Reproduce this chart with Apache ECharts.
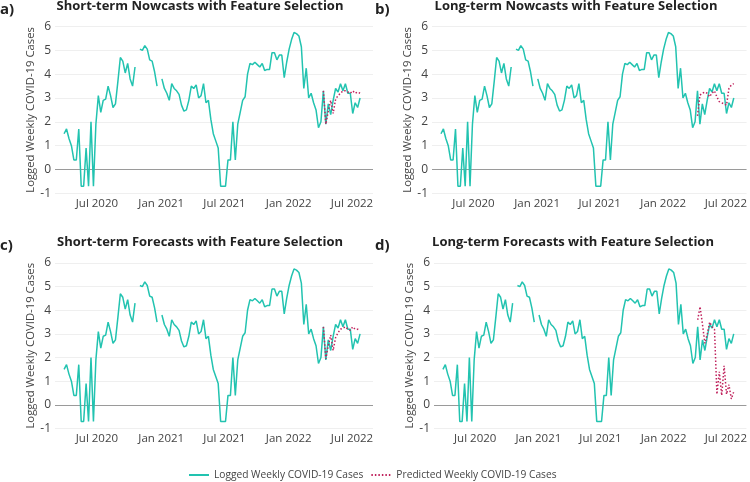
<!DOCTYPE html>
<html>
<head>
<meta charset="utf-8">
<script src="https://cdn.jsdelivr.net/npm/echarts@6/dist/echarts.min.js"></script>
<style>
html,body{margin:0;padding:0;background:#fff;}
#chart{width:750px;height:482px;}
</style>
</head>
<body>
<div id="chart"></div>
<script>
// ---- Data ----
const firstWeek = '2020-03-29';
const loggedCases = [
  1.5, 1.7, 1.3, 1.0, 0.4, 0.4, 1.7, -0.7, -0.7, 0.9,
  -0.7, 2.0, -0.7, 1.9, 3.1, 2.4, 2.9, 2.95, 3.5, 3.1,
  2.6, 2.75, 3.7, 4.7, 4.55, 4.05, 4.45, 3.8, 3.5, 4.3,
  null, 5.05, 5.0, 5.2, 5.05, 4.6, 4.55, 4.1, 3.5, null,
  3.8, 3.4, 3.2, 2.9, 3.6, 3.4, 3.3, 3.15, 2.7, 2.45,
  2.5, 2.9, 3.5, 3.4, 3.55, 3.0, 3.1, 3.6, 2.8, 2.9,
  2.1, 1.5, 1.2, 0.9, -0.7, -0.7, -0.7, 0.4, 0.4, 2.0,
  0.4, 1.9, 2.4, 2.9, 3.05, 4.0, 4.45, 4.4, 4.5, 4.4,
  4.3, 4.45, 4.15, 4.2, 4.2, 4.9, 4.9, 4.6, 4.8, 4.8,
  3.85, 4.5, 5.05, 5.45, 5.75, 5.7, 5.6, 5.15, 3.4, 4.25,
  3.0, 3.2, 2.8, 2.5, 1.75, 2.0, 3.3, 1.9, 2.75, 2.3,
  2.9, 3.4, 3.25, 3.6, 3.3, 3.6, 3.2, 3.2, 2.35, 2.8,
  2.6, 3.0
];
const predStartIndex = 106;
const predShortNowcast = [3.3, 1.9, 2.45, 2.9, 2.35, 2.95, 3.1, 3.2, 3.3, 3.3, 3.25, 3.2, 3.3, 3.2, 3.25, 3.2];
const predLongNowcast  = [2.25, 3.12, 3.2, 3.25, 3.2, 3.05, 3.2, 3.3, 3.05, 2.85, 2.8, 2.75, 2.7, 3.4, 3.55, 3.6];
const predShortForecast = [3.3, 1.95, 2.5, 2.95, 2.3, 2.85, 3.05, 3.2, 3.25, 3.3, 3.2, 3.15, 3.3, 3.2, 3.2, 3.15];
const predLongForecast = [3.6, 4.15, 3.4, 2.6, 3.0, 3.5, 3.3, 3.2, 0.45, 1.4, 0.4, 1.65, 0.45, 0.85, 0.25, 0.55];
const tickDates = ['2020-07-01', '2021-01-01', '2021-07-01', '2022-01-01', '2022-07-01'];
const tickLabels = ['Jul 2020', 'Jan 2021', 'Jul 2021', 'Jan 2022', 'Jul 2022'];
const panelTitles = [
  'Short-term Nowcasts with Feature Selection',
  'Long-term Nowcasts with Feature Selection',
  'Short-term Forecasts with Feature Selection',
  'Long-term Forecasts with Feature Selection'
];
const panelLetters = ['a)', 'b)', 'c)', 'd)'];
const yAxisName = 'Logged Weekly COVID-19 Cases';
const seriesNames = ['Logged Weekly COVID-19 Cases', 'Predicted Weekly COVID-19 Cases'];

// ---- Build ----
const DAY = 86400000;
const t0 = Date.parse(firstWeek + 'T00:00:00Z');
const weekTs = loggedCases.map((_, i) => t0 + i * 7 * DAY);
const actualData = loggedCases.map((v, i) => [weekTs[i], v]);
const predSets = [predShortNowcast, predLongNowcast, predShortForecast, predLongForecast];
const tickTs = tickDates.map(d => Date.parse(d + 'T00:00:00Z'));
function labelFor(v) {
  for (let i = 0; i < tickTs.length; i++) {
    if (Math.abs(tickTs[i] - v) < DAY) return tickLabels[i];
  }
  return '';
}

const FONT = 'Open Sans';
const TEAL = '#22c3b0';
const PRED = '#c0235d';
const xMin = Date.parse('2020-03-03T00:00:00Z');
const xMax = Date.parse('2022-08-30T00:00:00Z');

const grids = [
  {left: 55, top: 26.5, width: 318, height: 166.8},
  {left: 432, top: 26.5, width: 316, height: 166.8},
  {left: 55, top: 263, width: 318, height: 165.5},
  {left: 434, top: 263, width: 314, height: 165.5}
];
const titleCenters = [[200, 0], [576, 0], [200, 236], [573, 236]];
const letterPos = [[0, 2], [375, 2], [0, 238], [375, 238]];

const gridLineColors = ['#efefef', '#9a9a9a', '#efefef', '#efefef', '#efefef', '#efefef', '#efefef', '#efefef'];

const option = {
  backgroundColor: '#fff',
  animation: false,
  textStyle: {fontFamily: FONT},
  title: [],
  grid: grids.map(g => Object.assign({containLabel: false}, g)),
  xAxis: [],
  yAxis: [],
  series: [],
  legend: {
    data: seriesNames,
    left: 183, top: 465,
    itemWidth: 20, itemHeight: 10, itemGap: 7,
    itemStyle: {opacity: 0},
    textStyle: {fontFamily: FONT, fontSize: 10.2, color: '#444'}
  }
};

for (let p = 0; p < 4; p++) {
  option.title.push({
    text: panelTitles[p],
    left: titleCenters[p][0], top: titleCenters[p][1],
    textAlign: 'center',
    padding: 0,
    textStyle: {fontFamily: FONT, fontWeight: 'bold', fontSize: 13, color: '#222'}
  });
  option.title.push({
    text: panelLetters[p],
    left: letterPos[p][0], top: letterPos[p][1],
    padding: 0,
    textStyle: {fontFamily: FONT, fontWeight: 'bold', fontSize: 15, color: '#222'}
  });
  option.xAxis.push({
    type: 'value', gridIndex: p, min: xMin, max: xMax,
    axisLine: {show: false}, axisTick: {show: false},
    splitLine: {show: false},
    axisLabel: {
      customValues: tickTs,
      formatter: v => labelFor(v),
      fontFamily: FONT, fontSize: 11.5, color: '#444', margin: 4,
      hideOverlap: false, showMinLabel: true, showMaxLabel: true
    }
  });
  option.yAxis.push({
    type: 'value', gridIndex: p, min: -1, max: 6, interval: 1,
    name: yAxisName, nameLocation: 'middle', nameGap: 18,
    nameTextStyle: {fontFamily: FONT, fontSize: 11.3, color: '#444'},
    axisLine: {show: false}, axisTick: {show: false},
    axisLabel: {fontFamily: FONT, fontSize: 12, color: '#444', margin: 4},
    splitLine: {show: true, lineStyle: {color: gridLineColors, width: 1}}
  });
  option.series.push({
    name: seriesNames[0], type: 'line', xAxisIndex: p, yAxisIndex: p,
    data: actualData, showSymbol: false, symbol: 'none', connectNulls: false,
    lineStyle: {color: TEAL, width: 1.5}, itemStyle: {color: TEAL}, z: 2
  });
  option.series.push({
    name: seriesNames[1], type: 'line', xAxisIndex: p, yAxisIndex: p,
    data: predSets[p].map((v, i) => [weekTs[predStartIndex + i], v]),
    showSymbol: false, symbol: 'none',
    lineStyle: {color: PRED, width: 1.5, type: [1.5, 2]}, itemStyle: {color: PRED}, z: 3
  });
}

const chart = echarts.init(document.getElementById('chart'), null, {renderer: 'canvas'});
chart.setOption(option);
</script>
</body>
</html>
